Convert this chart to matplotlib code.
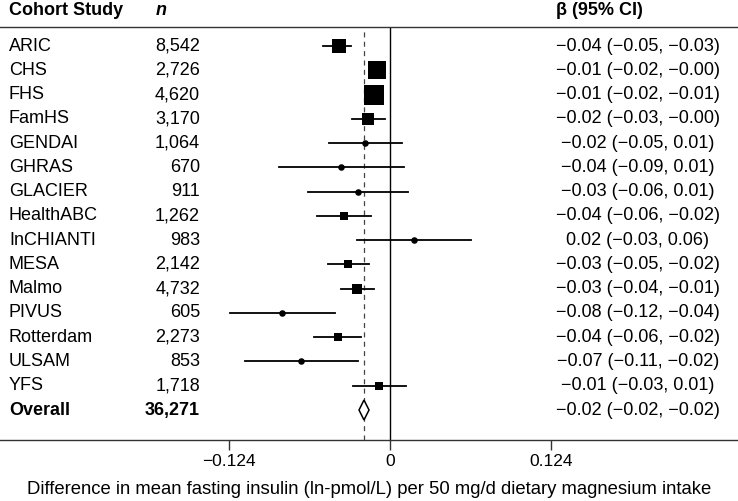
import numpy as np
import matplotlib
matplotlib.use('Agg')
import matplotlib.pyplot as plt
from matplotlib.patches import Polygon

plt.rcParams['font.family'] = ['Liberation Sans', 'DejaVu Sans']

## Data
studies = ['ARIC', 'CHS', 'FHS', 'FamHS', 'GENDAI', 'GHRAS', 'GLACIER', 'HealthABC',
           'InCHIANTI', 'MESA', 'Malmo', 'PIVUS', 'Rotterdam', 'ULSAM', 'YFS']
n_subjects = [8542, 2726, 4620, 3170, 1064, 670, 911, 1262,
              983, 2142, 4732, 605, 2273, 853, 1718]
beta = [-0.0393, -0.0097, -0.0126, -0.0166, -0.0190, -0.0375, -0.0247, -0.0354,
        0.0184, -0.0320, -0.0250, -0.0827, -0.0400, -0.0680, -0.0084]
ci_low = [-0.0517, -0.0160, -0.0190, -0.0293, -0.0470, -0.0850, -0.0630, -0.0560,
          -0.0256, -0.0480, -0.0376, -0.1229, -0.0580, -0.1115, -0.0288]
ci_high = [-0.0296, -0.0040, -0.0060, -0.0038, 0.0092, 0.0110, 0.0137, -0.0147,
           0.0624, -0.0158, -0.0125, -0.0420, -0.0224, -0.0247, 0.0120]
weight_pct = [13.5, 23.1, 28.3, 8.0, 1.1, 0.8, 0.9, 3.4, 0.8, 4.4, 7.0, 0.8, 4.4, 0.8, 3.4]
ci_text = ['\u22120.04 (\u22120.05, \u22120.03)', '\u22120.01 (\u22120.02, \u22120.00)',
           '\u22120.01 (\u22120.02, \u22120.01)', '\u22120.02 (\u22120.03, \u22120.00)',
           '\u22120.02 (\u22120.05, 0.01)', '\u22120.04 (\u22120.09, 0.01)',
           '\u22120.03 (\u22120.06, 0.01)', '\u22120.04 (\u22120.06, \u22120.02)',
           '0.02 (\u22120.03, 0.06)', '\u22120.03 (\u22120.05, \u22120.02)',
           '\u22120.03 (\u22120.04, \u22120.01)', '\u22120.08 (\u22120.12, \u22120.04)',
           '\u22120.04 (\u22120.06, \u22120.02)', '\u22120.07 (\u22120.11, \u22120.02)',
           '\u22120.01 (\u22120.03, 0.01)']

overall_n = 36271
overall_beta = -0.0200
overall_low = -0.0238
overall_high = -0.0161
overall_text = '\u22120.02 (\u22120.02, \u22120.02)'

xticks = [-0.124, 0, 0.124]
xtick_labels = ['\u22120.124', '0', '0.124']

fs = 13

fig = plt.figure(figsize=(7.38, 5.01), dpi=100)
ax = fig.add_axes([0, 61 / 501, 1, 413 / 501])

rows = np.arange(len(studies))
overall_row = len(studies)

# confidence intervals and weighted markers
for i in rows:
    ax.plot([ci_low[i], ci_high[i]], [i, i], color='black', lw=1.3, zorder=3)
    side_px = np.sqrt(weight_pct[i] * 15.13)
    if side_px < 5:
        ax.plot(beta[i], i, marker='o', ms=3.7, color='black', zorder=4)
    else:
        ax.plot(beta[i], i, marker='s', ms=side_px * 0.72, color='black',
                markeredgewidth=0, zorder=4)

# overall diamond
diamond = Polygon([[overall_low, overall_row], [overall_beta, overall_row - 0.41],
                   [overall_high, overall_row], [overall_beta, overall_row + 0.41]],
                  closed=True, facecolor='white', edgecolor='black', lw=1.1, zorder=5)
ax.add_patch(diamond)

ax.axvline(0, color='black', lw=1.0, zorder=2)
ax.axvline(overall_beta, color='#444444', lw=0.9, ls=(0, (4, 3.5)), zorder=1)

ax.set_xlim(-390 / 1302, 348 / 1302)
ax.set_ylim(16.236, -0.783)

# text columns (x in axes fraction, y in data)
tr = ax.get_yaxis_transform()
for i in rows:
    ax.text(9 / 738, i, studies[i], transform=tr, ha='left', va='center', fontsize=fs)
    ax.text(200 / 738, i, f'{n_subjects[i]:,}', transform=tr, ha='right', va='center', fontsize=fs)
    ax.text(638 / 738, i, ci_text[i], transform=tr, ha='center', va='center', fontsize=fs)

ax.text(9 / 738, overall_row, 'Overall', transform=tr, ha='left', va='center',
        fontsize=fs, fontweight='bold')
ax.text(200 / 738, overall_row, f'{overall_n:,}', transform=tr, ha='right', va='center',
        fontsize=fs, fontweight='bold')
ax.text(638 / 738, overall_row, overall_text, transform=tr, ha='center', va='center', fontsize=fs)

# headers
ax.text(9 / 738, -1.48, 'Cohort Study', transform=tr, ha='left', va='center',
        fontsize=fs, fontweight='bold')
ax.text(156 / 738, -1.48, 'n', transform=tr, ha='left', va='center',
        fontsize=fs, fontweight='bold', fontstyle='italic')
ax.text(556 / 738, -1.48, '\u03b2 (95% CI)', transform=tr, ha='left', va='center',
        fontsize=fs, fontweight='bold')

for side in ['left', 'right']:
    ax.spines[side].set_visible(False)
for side in ['top', 'bottom']:
    ax.spines[side].set_linewidth(1.0)
    ax.spines[side].set_color('#333333')

ax.set_yticks([])
ax.set_xticks(xticks)
ax.set_xticklabels(xtick_labels, fontsize=12.5)
ax.tick_params(axis='x', length=7, width=1.0, color='#333333', pad=3)
ax.set_xlabel('Difference in mean fasting insulin (ln-pmol/L) per 50 mg/d dietary magnesium intake',
              fontsize=13.3, labelpad=9)

fig.savefig('out.png', dpi=100)
